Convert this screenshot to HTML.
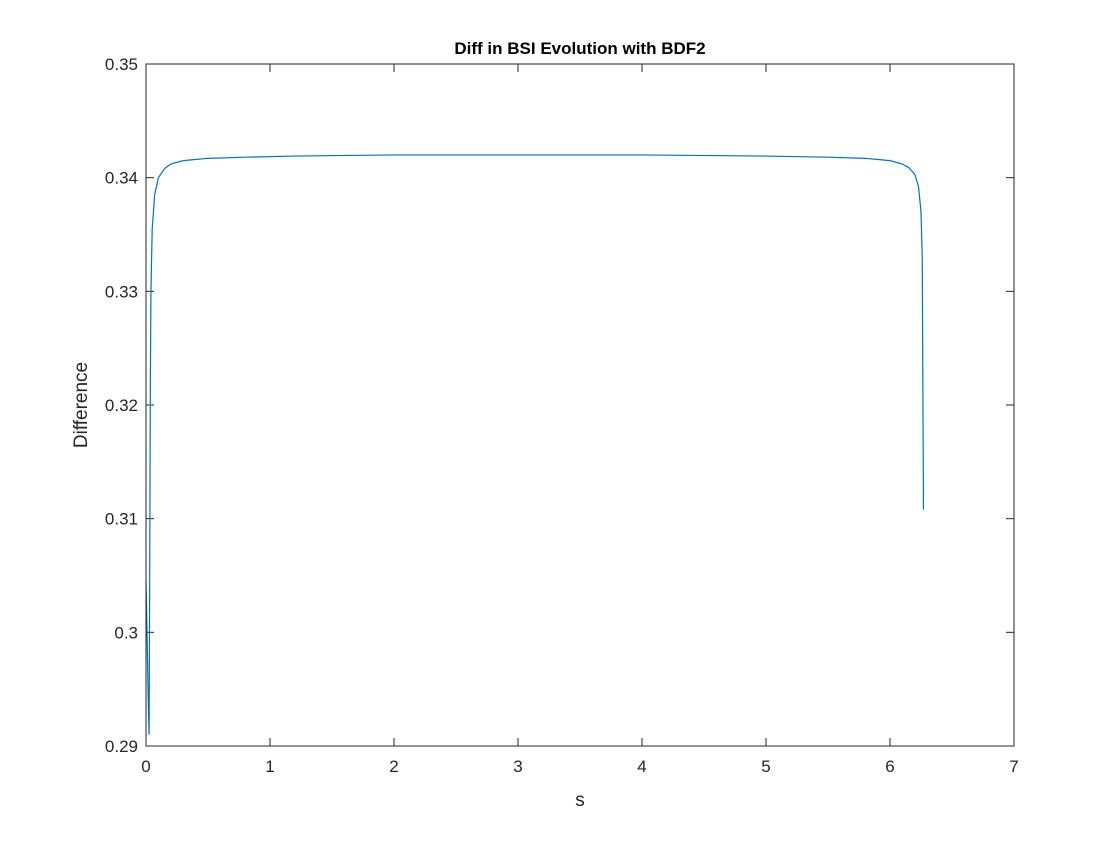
<!DOCTYPE html>
<html><head><meta charset="utf-8"><style>
body{margin:0;background:#fff;font-family:"Liberation Sans",Arial,sans-serif}
svg text{font-family:"Liberation Sans",Arial,sans-serif}
</style></head><body>
<svg id="chart" width="1120" height="840">
<rect width="1120" height="840" fill="#fff"/>
<text x="580" y="54" text-anchor="middle" font-size="17" font-weight="bold" fill="#000">Diff in BSI Evolution with BDF2</text>
<text x="580" y="806" text-anchor="middle" font-size="19" fill="#262626">s</text>
<text transform="translate(87,405) rotate(-90)" text-anchor="middle" font-size="19" fill="#262626">Difference</text>
<g id="axes"></g>
<path id="line" fill="none" stroke="#0072BD" stroke-width="1.2"/>
<rect x="146" y="64" width="868" height="682" fill="none" stroke="#262626" stroke-width="1"/>
</svg>
<script>
const xTicks=[0,1,2,3,4,5,6,7];
const yTicks=[0.29,0.30,0.31,0.32,0.33,0.34,0.35];
const yTickLabels=["0.29","0.3","0.31","0.32","0.33","0.34","0.35"];
const sVals=[0,0.01,0.02,0.025,0.03,0.035,0.04,0.05,0.07,0.1,0.15,0.2,0.3,0.5,0.8,1.2,2,3,4,5,5.5,5.8,6.0,6.1,6.15,6.2,6.23,6.25,6.26,6.27];
const diffVals=[0.3045,0.299,0.293,0.291,0.305,0.322,0.330,0.3355,0.3385,0.3400,0.3408,0.3412,0.3415,0.3417,0.3418,0.3419,0.3420,0.3420,0.3420,0.3419,0.3418,0.3417,0.3415,0.3412,0.3409,0.3403,0.3392,0.3370,0.3330,0.3108];
const X0=146,X1=1014,Y0=746,Y1=64;
function sx(v){return X0+(v-0)/(7-0)*(X1-X0);}
function sy(v){return Y0-(v-0.29)/(0.35-0.29)*(Y0-Y1);}
const ns="http://www.w3.org/2000/svg";
const g=document.getElementById('axes');
xTicks.forEach(t=>{
 const x=sx(t);
 [[Y0,Y0-8],[Y1,Y1+8]].forEach(p=>{const l=document.createElementNS(ns,'line');
 l.setAttribute('x1',x);l.setAttribute('x2',x);l.setAttribute('y1',p[0]);l.setAttribute('y2',p[1]);l.setAttribute('stroke','#262626');
 
 
 g.appendChild(l);});
 const tx=document.createElementNS(ns,'text');
 tx.setAttribute('x',x);tx.setAttribute('y',Y0+26);tx.setAttribute('text-anchor','middle');tx.setAttribute('font-size','17');tx.setAttribute('fill','#262626');
 tx.textContent=t;
 
 
 g.appendChild(tx);
});
yTicks.forEach((t,i)=>{
 const y=sy(t);
 [[X0,X0+8],[X1,X1-8]].forEach(p=>{const l=document.createElementNS(ns,'line');
 l.setAttribute('y1',y);l.setAttribute('y2',y);l.setAttribute('x1',p[0]);l.setAttribute('x2',p[1]);l.setAttribute('stroke','#262626');
 
 
 g.appendChild(l);});
 const tx=document.createElementNS(ns,'text');
 tx.setAttribute('x',X0-8);tx.setAttribute('y',y+6);tx.setAttribute('text-anchor','end');tx.setAttribute('font-size','17');tx.setAttribute('fill','#262626');
 tx.textContent=yTickLabels[i];
 
 
 g.appendChild(tx);
});
document.getElementById('line').setAttribute('d',sVals.map((s,i)=>(i?'L':'M')+sx(s).toFixed(2)+','+sy(diffVals[i]).toFixed(2)).join(' '));
</script>
</body></html>
